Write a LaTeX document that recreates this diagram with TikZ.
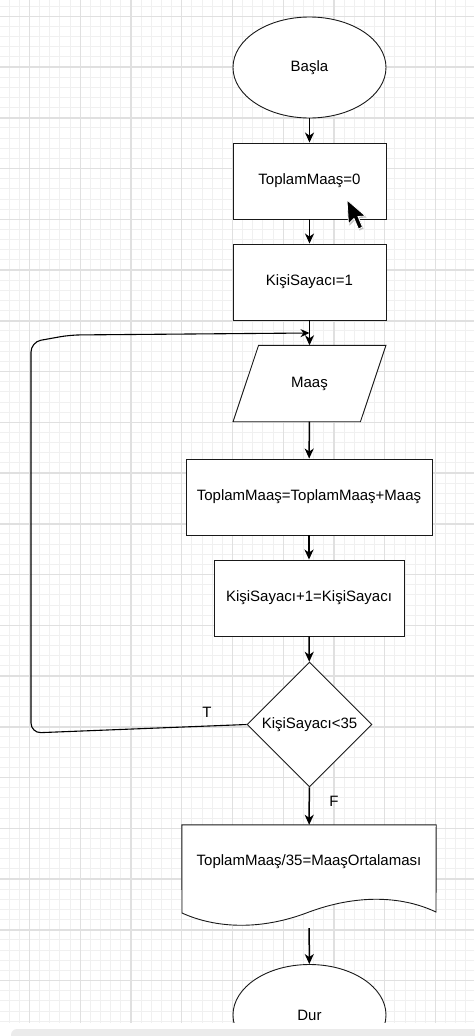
\documentclass[tikz,border=0pt]{standalone}
\usepackage{fontspec}
\setmainfont{Liberation Sans}
\usepackage{tikz}
\usetikzlibrary{positioning,shapes.geometric,arrows.meta,calc,backgrounds}

\begin{document}
\begin{tikzpicture}[x=1pt,y=-1pt,
                every node/.style={font=\fontsize{15}{18}\selectfont, inner sep=0pt},
                gridminor/.style={draw=black!6, line width=1pt},
                gridmajor/.style={draw=black!12, line width=1.4pt},
                shapeline/.style={draw=black!90, fill=white, line width=0.9pt},
                terminal/.style={ellipse, shapeline, minimum width=153, minimum height=101},
                process/.style={rectangle, shapeline, minimum height=76},
                decision/.style={diamond, shapeline, aspect=1, minimum width=125, minimum height=125},
                flow/.style={-{Stealth[length=10pt,width=9pt,inset=3pt]}, line width=1.5pt},
                backflow/.style={-{Stealth[length=9pt,width=8pt,inset=3pt]}, line width=1.1pt}]
            \useasboundingbox (0,0) rectangle (474,1036);

            \begin{scope}[on background layer]
                \fill[white] (0,0) rectangle (474,1036);
                \foreach \i in {-2,...,44}
                    \draw[gridminor] ({29.5+\i*10.15},0) -- ++(0,1023);
                \foreach \i in {-1,...,99}
                    \draw[gridminor] (0,{16.3+\i*10.15}) -- ++(474,0);
                \foreach \i in {0,...,8}
                    \draw[gridmajor] ({29.5+\i*50.75},0) -- ++(0,1023);
                \foreach \i in {0,...,19}
                    \draw[gridmajor] (0,{16.3+\i*50.75}) -- ++(474,0);
            \end{scope}

            \node[terminal] (basla) at (309.5,67.5) {Başla};
            \node[process, minimum width=153] (toplam0) at (309.5,181) {ToplamMaaş=0};
            \node[process, minimum width=153] (sayac1) at (309.5,282) {KişiSayacı=1};
            \node[minimum width=127, minimum height=76] (maas) at (309.5,383.5) {Maaş};
            \node[process, minimum width=246] (toplamekle) at (309,497) {ToplamMaaş=ToplamMaaş+Maaş};
            \node[process, minimum width=190] (sayacart) at (309,598) {KişiSayacı+1=KişiSayacı};
            \node[decision] (kosul) at (309.5,724.5) {KişiSayacı<35};
            \node[minimum width=254, minimum height=103] (ortalama) at (309,876.5) {};
            \node (ortyazi) at (309,862) {ToplamMaaş/35=MaaşOrtalaması};
            \begin{scope}
                \clip (0,0) rectangle (474,1023);
                \node[terminal] (dur) at (309.5,1015) {Dur};
            \end{scope}

            \begin{scope}[on background layer]
                \draw[shapeline] ($(maas.south west)+(-12.75,0)$) -- ($(maas.south east)+(-12.75,0)$)
                    -- ($(maas.north east)+(12.75,0)$) -- ($(maas.north west)+(12.75,0)$) -- cycle;
                \draw[shapeline] (ortalama.north west) -- (ortalama.north east) -- (436,912)
                    .. controls (400,895) and (355,895) .. (309,912)
                    .. controls (260,931) and (215,928) .. (182,913) -- cycle;
            \end{scope}

            \coordinate (donus) at (309.5,333);
            \draw[flow] (basla) -- (toplam0);
            \draw[flow] (toplam0) -- (sayac1);
            \draw[flow] (sayac1) -- (maas);
            \draw[flow] (maas) -- (toplamekle);
            \draw[flow] (toplamekle) -- (sayacart);
            \draw[flow] (sayacart) -- (kosul);
            \draw[flow] (kosul) -- (ortalama);
            \draw[flow] (ortalama) -- (dur);
            \draw[backflow, rounded corners=10] (kosul.west) -- (31,733) -- (31,342) -- (70,335) -- (donus);

            \node (t) at (207,712) {T};
            \node (f) at (334,801) {F};

            \fill[black!25] (348,201.5) -- (349.5,225.5) -- (355,220) -- (359.5,230.5) -- (363.5,228.5) -- (359,218) -- (366.5,217.5) -- cycle;
            \filldraw[fill=black, draw=white, line width=0.8pt] (347,200) -- (348.5,224) -- (354,218.5) -- (358.5,229)
                -- (362.5,227) -- (358,216.5) -- (365.5,216) -- cycle;

            \fill[white] (0,1023) rectangle (474,1036);
            \fill[black!8, rounded corners=6] (11,1029) rectangle (490,1046);
        \end{tikzpicture}
\end{document}
